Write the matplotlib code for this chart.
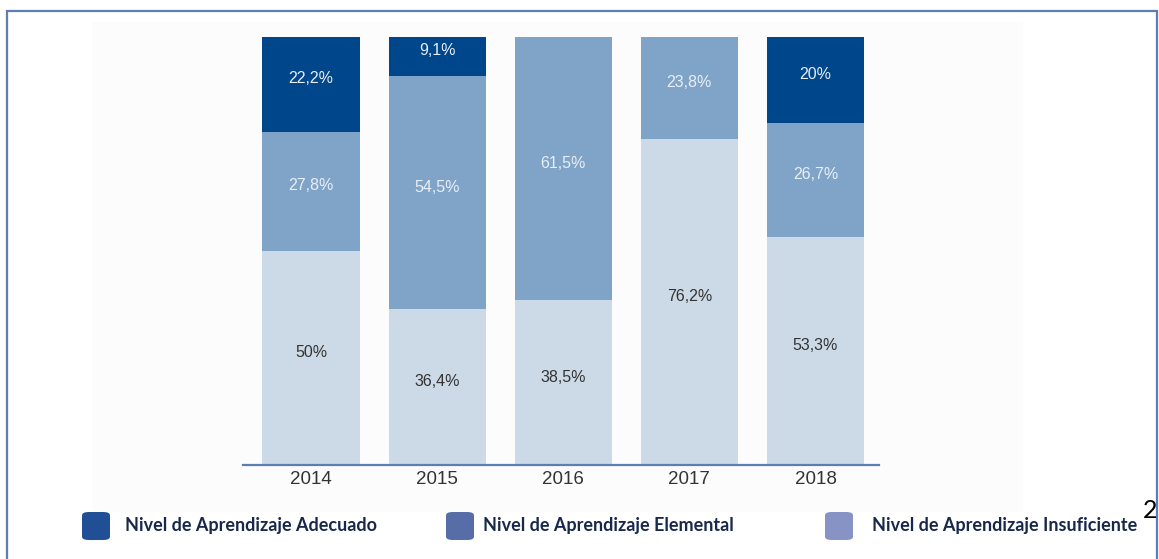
import matplotlib.pyplot as plt
from matplotlib.patches import Rectangle, FancyBboxPatch

# datos (porcentajes por año)
years = ['2014', '2015', '2016', '2017', '2018']
insuficiente = [50, 36.4, 38.5, 76.2, 53.3]
elemental = [27.8, 54.5, 61.5, 23.8, 26.7]
adecuado = [22.2, 9.1, 0, 0, 20]

labels_ins = ['50%', '36,4%', '38,5%', '76,2%', '53,3%']
labels_ele = ['27,8%', '54,5%', '61,5%', '23,8%', '26,7%']
labels_ade = ['22,2%', '9,1%', '', '', '20%']

legend_names = ['Nivel de Aprendizaje Adecuado', 'Nivel de Aprendizaje Elemental',
                'Nivel de Aprendizaje Insuficiente']

c_dark = '#00468b'
c_mid = '#80a4c8'
c_light = '#ccdae7'
leg_colors = ['#214f96', '#566da7', '#8792c5']

fig = plt.figure(figsize=(11.59, 5.59), dpi=100)
W, H = 1159, 559

# fondo gris muy claro y marco
fig.patches.append(Rectangle((92 / W, 1 - 512 / H), (1023 - 92) / W, (512 - 22) / H,
                             transform=fig.transFigure, facecolor='#fcfcfc', edgecolor='none', zorder=-5))
fig.patches.append(Rectangle((7 / W, -0.05), (1157 - 7) / W, 1.05 - 10.5 / H,
                             transform=fig.transFigure, facecolor='none', edgecolor='#5b7fb4',
                             linewidth=1.6, zorder=-4))

ax = fig.add_axes([243 / W, 1 - 465 / H, (879 - 243) / W, (465 - 37) / H], zorder=2)
ax.patch.set_alpha(0)

x = list(range(len(years)))
bw = 0.77
b1 = ax.bar(x, insuficiente, bw, color=c_light)
b2 = ax.bar(x, elemental, bw, bottom=insuficiente, color=c_mid)
bottom3 = [a + b for a, b in zip(insuficiente, elemental)]
b3 = ax.bar(x, adecuado, bw, bottom=bottom3, color=c_dark)

for bars, labs, col in [(b1, labels_ins, '#333333'), (b2, labels_ele, '#e8eef6'), (b3, labels_ade, '#e8eef6')]:
    for rect, lab in zip(bars, labs):
        if lab == '':
            continue
        cx = rect.get_x() + rect.get_width() / 2
        cy = rect.get_y() + rect.get_height() / 2
        ax.annotate(lab, (cx, cy), xytext=(0, 4), textcoords='offset points',
                    ha='center', va='center', fontsize=11.5, color=col, family='Liberation Sans')

ax.set_xlim(-0.539, 4.504)
ax.set_ylim(0, 100)
ax.set_xticks(x)
ax.set_xticklabels(years, fontsize=13.5, color='#333333', family='Liberation Sans')
ax.tick_params(axis='x', length=0, pad=4)
ax.set_yticks([])
for s in ['left', 'top', 'right']:
    ax.spines[s].set_visible(False)
ax.spines['bottom'].set_color('#5b80b0')
ax.spines['bottom'].set_linewidth(1.6)

# leyenda hecha a mano
sq_x = [82, 446, 825]
tx_x = [125, 483, 872]
for sx, tx, name, col in zip(sq_x, tx_x, legend_names, leg_colors):
    fig.patches.append(FancyBboxPatch((sx / W, 1 - 540 / H), 28 / W, 28 / H,
                                      boxstyle='round,pad=0,rounding_size=0.006',
                                      transform=fig.transFigure, facecolor=col, edgecolor='none'))
    fig.text(tx / W, 1 - 526 / H, name, fontsize=13, fontweight='bold', color='#17284a',
             family='Lato', va='center', ha='left')

fig.text(1143 / W, 1 - 511 / H, '2', fontsize=18, color='black', family='Lato', va='center', ha='left')

fig.savefig('out.png', dpi=100)
